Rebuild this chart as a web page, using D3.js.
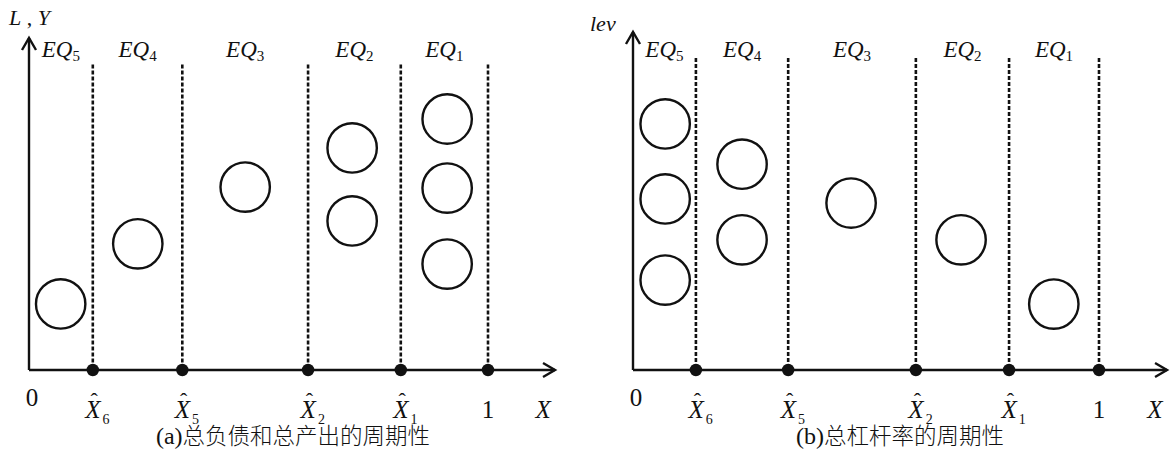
<!DOCTYPE html>
<html>
<head>
<meta charset="utf-8">
<script src="https://cdn.jsdelivr.net/npm/d3@7"></script>
<style>
  html, body { margin: 0; padding: 0; background: #fff; }
  svg { display: block; }
</style>
</head>
<body>
<svg id="chart" width="1171" height="450"></svg>
<script>
// ---------- data ----------
const regimeIndex = [5, 4, 3, 2, 1];            // EQ subscripts, left to right
const cutSubscripts = ["6", "5", "2", "1"];       // X-hat subscripts
const cutsA = [0.139, 0.334, 0.608, 0.810, 1];    // threshold positions, panel (a)
const cutsB = [0.135, 0.333, 0.607, 0.807, 1];    // threshold positions, panel (b)
const circleXA = [0.069, 0.237, 0.471, 0.704, 0.911];
const circleYA = [[0.199], [0.380], [0.551], [0.669, 0.449], [0.756, 0.548, 0.319]];
const circleXB = [0.069, 0.234, 0.468, 0.704, 0.903];
const circleYB = [[0.728, 0.506, 0.266], [0.609, 0.385], [0.494], [0.385], [0.195]];
const yLabelA = ["L", " , ", "Y"];
const yLabelB = "lev";
const captionA = ["(a)", "总负债和总产出的周期性"];
const captionB = ["(b)", "总杠杆率的周期性"];

// ---------- drawing ----------
const svg = d3.select("#chart");
const ink = "#111";
const serif = '"Liberation Serif", "Times New Roman", serif';
const cjk = '"Noto Sans CJK SC", "Noto Sans CJK JP", sans-serif';

function drawPanel(cfg) {
  const g = svg.append("g");
  const x = d3.scaleLinear().domain([0, 1]).range(cfg.xRange);
  const y = d3.scaleLinear().domain([0, 1]).range(cfg.yRange);
  const x0 = x(0), y0 = y(0);

  // dashed thresholds
  g.selectAll("line.cut").data(cfg.cuts).join("line")
    .attr("x1", d => x(d)).attr("x2", d => x(d))
    .attr("y1", y(cfg.dashTop)).attr("y2", y0)
    .attr("stroke", ink).attr("stroke-width", 2.6)
    .attr("stroke-dasharray", "4,2");

  // axes
  const xEnd = x(1.146), yEnd = y(1);
  g.append("line").attr("x1", x0).attr("x2", xEnd).attr("y1", y0).attr("y2", y0)
    .attr("stroke", ink).attr("stroke-width", 2.4);
  g.append("line").attr("x1", x0).attr("x2", x0).attr("y1", y0).attr("y2", yEnd)
    .attr("stroke", ink).attr("stroke-width", 2.4);
  g.append("path").attr("d", `M${xEnd - 12},${y0 - 7}L${xEnd},${y0}L${xEnd - 12},${y0 + 7}`)
    .attr("fill", "none").attr("stroke", ink).attr("stroke-width", 2.4);
  g.append("path").attr("d", `M${x0 - 7},${yEnd + 12}L${x0},${yEnd}L${x0 + 7},${yEnd + 12}`)
    .attr("fill", "none").attr("stroke", ink).attr("stroke-width", 2.4);

  // dots on axis
  g.selectAll("circle.dot").data(cfg.cuts).join("circle")
    .attr("cx", d => x(d)).attr("cy", y0).attr("r", 6.2).attr("fill", ink);

  // circles
  const circ = [];
  cfg.circleY.forEach((ys, i) => ys.forEach(v => circ.push({ x: cfg.circleX[i], y: v })));
  g.selectAll("circle.eq").data(circ).join("circle")
    .attr("cx", d => x(d.x)).attr("cy", d => y(d.y)).attr("r", 24.7)
    .attr("fill", "none").attr("stroke", ink).attr("stroke-width", 2.4);

  // EQ labels, centred in regions
  const bounds = [0].concat(cfg.cuts);
  regimeIndex.forEach((k, i) => {
    const cx = (x(bounds[i]) + x(bounds[i + 1])) / 2;
    const t = g.append("text").attr("x", cx).attr("y", cfg.eqBase)
      .attr("text-anchor", "middle").attr("font-family", serif).attr("fill", ink)
      .attr("font-size", 23);
    t.append("tspan").attr("font-style", "italic").text("EQ");
    t.append("tspan").attr("font-size", 15).attr("dy", 4).text(k);
  });

  // x tick labels (X with hat and subscript, one text element each)
  const labBase = 418;
  cfg.cuts.slice(0, 4).forEach((d, i) => {
    const cx = x(d);
    const t = g.append("text").attr("x", cx - 7.5).attr("y", labBase)
      .attr("font-family", serif).attr("fill", ink).attr("font-size", 25);
    t.append("tspan").attr("font-style", "italic").text("X");
    t.append("tspan").attr("font-size", 22).attr("dx", -10).attr("dy", -10).text("ˆ");
    t.append("tspan").attr("font-size", 14).attr("dx", 4.7).attr("dy", 16).text(cutSubscripts[i]);
  });
  g.append("text").attr("x", x(1)).attr("y", 418).attr("text-anchor", "middle")
    .attr("font-family", serif).attr("font-size", 25).attr("fill", ink).text("1");
  g.append("text").attr("x", x0 + 3).attr("y", 406).attr("text-anchor", "middle")
    .attr("font-family", serif).attr("font-size", 25).attr("fill", ink).text("0");
  g.append("text").attr("x", x(1.12)).attr("y", 418).attr("text-anchor", "middle")
    .attr("font-family", serif).attr("font-size", 25).attr("font-style", "italic")
    .attr("fill", ink).text("X");

  // y label
  cfg.drawYLabel(g);

  // caption
  const c = g.append("text").attr("x", cfg.captionX).attr("y", 444)
    .attr("text-anchor", "middle").attr("fill", ink).attr("font-size", 22.5);
  c.append("tspan").attr("font-family", serif).attr("font-size", 24).text(cfg.caption[0]);
  c.append("tspan").attr("font-family", cjk).attr("font-weight", 300).text(cfg.caption[1]);
}

drawPanel({
  xRange: [29, 488], yRange: [370, 38], dashTop: 0.92, eqBase: 57,
  cuts: cutsA, circleX: circleXA, circleY: circleYA, caption: captionA, captionX: 293,
  drawYLabel: g => {
    const t = g.append("text").attr("x", 9).attr("y", 25).attr("font-family", serif)
      .attr("font-size", 22).attr("fill", ink);
    t.append("tspan").attr("font-style", "italic").text(yLabelA[0]);
    t.append("tspan").text(yLabelA[1]);
    t.append("tspan").attr("font-style", "italic").text(yLabelA[2]);
  }
});

drawPanel({
  xRange: [633, 1099], yRange: [370, 32], dashTop: 0.923, eqBase: 57,
  cuts: cutsB, circleX: circleXB, circleY: circleYB, caption: captionB, captionX: 900,
  drawYLabel: g => {
    g.append("text").attr("x", 590).attr("y", 31).attr("font-family", serif)
      .attr("font-size", 22).attr("font-style", "italic").attr("fill", ink).text(yLabelB);
  }
});
</script>
</body>
</html>
